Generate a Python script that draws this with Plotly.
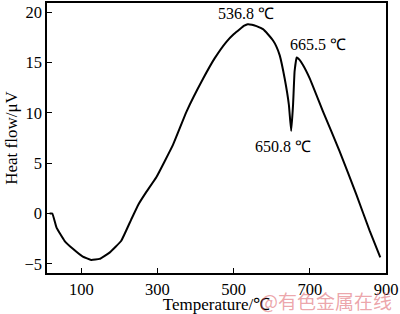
import plotly.graph_objects as go

temperature = [17, 24, 35, 56, 78, 104, 126, 148, 175, 205, 231, 250, 270, 297, 341, 376, 420, 450, 481, 500, 516,
               528, 537, 548, 560, 577, 590, 603, 612, 621, 634, 645, 651, 656, 660, 665.5, 672, 682, 700, 735, 778, 822, 857, 885]
heat_flow = [0, 0, -1.4, -2.7, -3.5, -4.27, -4.6, -4.5, -3.85, -2.7, -0.6, 0.9, 2.1, 3.6, 6.85, 10.1, 13.4, 15.4, 17.05, 17.8, 18.3,
             18.65, 18.8, 18.75, 18.6, 18.3, 17.8, 17.2, 16.6, 15.7, 13.4, 10.8, 8.2, 10.8, 14.1, 15.5, 15.3, 14.75, 13.4, 10.1, 6.2, 1.9, -1.7, -4.35]

x_ticks = [100, 300, 500, 700, 900]
y_ticks = [-5, 0, 5, 10, 15, 20]

peak_labels = ["536.8 ℃", "665.5 ℃", "650.8 ℃"]
peak_x = [536.8, 665.5, 650.8]
peak_y = [18.8, 15.5, 8.2]

font = "Liberation Serif, Times New Roman, serif"

fig = go.Figure()
fig.add_trace(go.Scatter(x=temperature, y=heat_flow, mode="lines",
                         line=dict(color="black", width=2, shape="spline", smoothing=0.3),
                         showlegend=False, hoverinfo="skip"))

placements = [("center", "bottom", -2, 0), ("left", "bottom", -9, 2), ("center", "top", -8, -5)]
for t, px, py, (xa, ya, dx, dy) in zip(peak_labels, peak_x, peak_y, placements):
    fig.add_annotation(x=px, y=py, text=t, showarrow=False, xanchor=xa, yanchor=ya, xshift=dx, yshift=dy,
                       font=dict(family=font, size=16, color="black"))

fig.add_annotation(x=0.823, y=-0.1, xref="paper", yref="paper", xanchor="center", yanchor="middle",
                   text="@有色金属在线", showarrow=False,
                   font=dict(family="Noto Sans CJK SC", size=19, color="rgba(220,90,100,0.55)"))

axis_common = dict(showline=True, linecolor="black", linewidth=1.5, mirror=True, ticks="inside",
                   ticklen=5, tickwidth=1, tickcolor="black", showgrid=False, zeroline=False,
                   tickfont=dict(family=font, size=16.5, color="black"))

fig.update_xaxes(range=[10, 900], tickvals=x_ticks,
                 title=dict(text="Temperature/℃", font=dict(family=font, size=17, color="black"), standoff=0),
                 **axis_common)
fig.update_yaxes(range=[-5.9, 20.9], tickvals=y_ticks,
                 title=dict(text="Heat flow/μV", font=dict(family=font, size=17, color="black"), standoff=2),
                 **axis_common)

fig.update_layout(width=400, height=314, margin=dict(l=47, r=14, t=1, b=41),
                  plot_bgcolor="white", paper_bgcolor="white")

fig.write_html("out.html")
